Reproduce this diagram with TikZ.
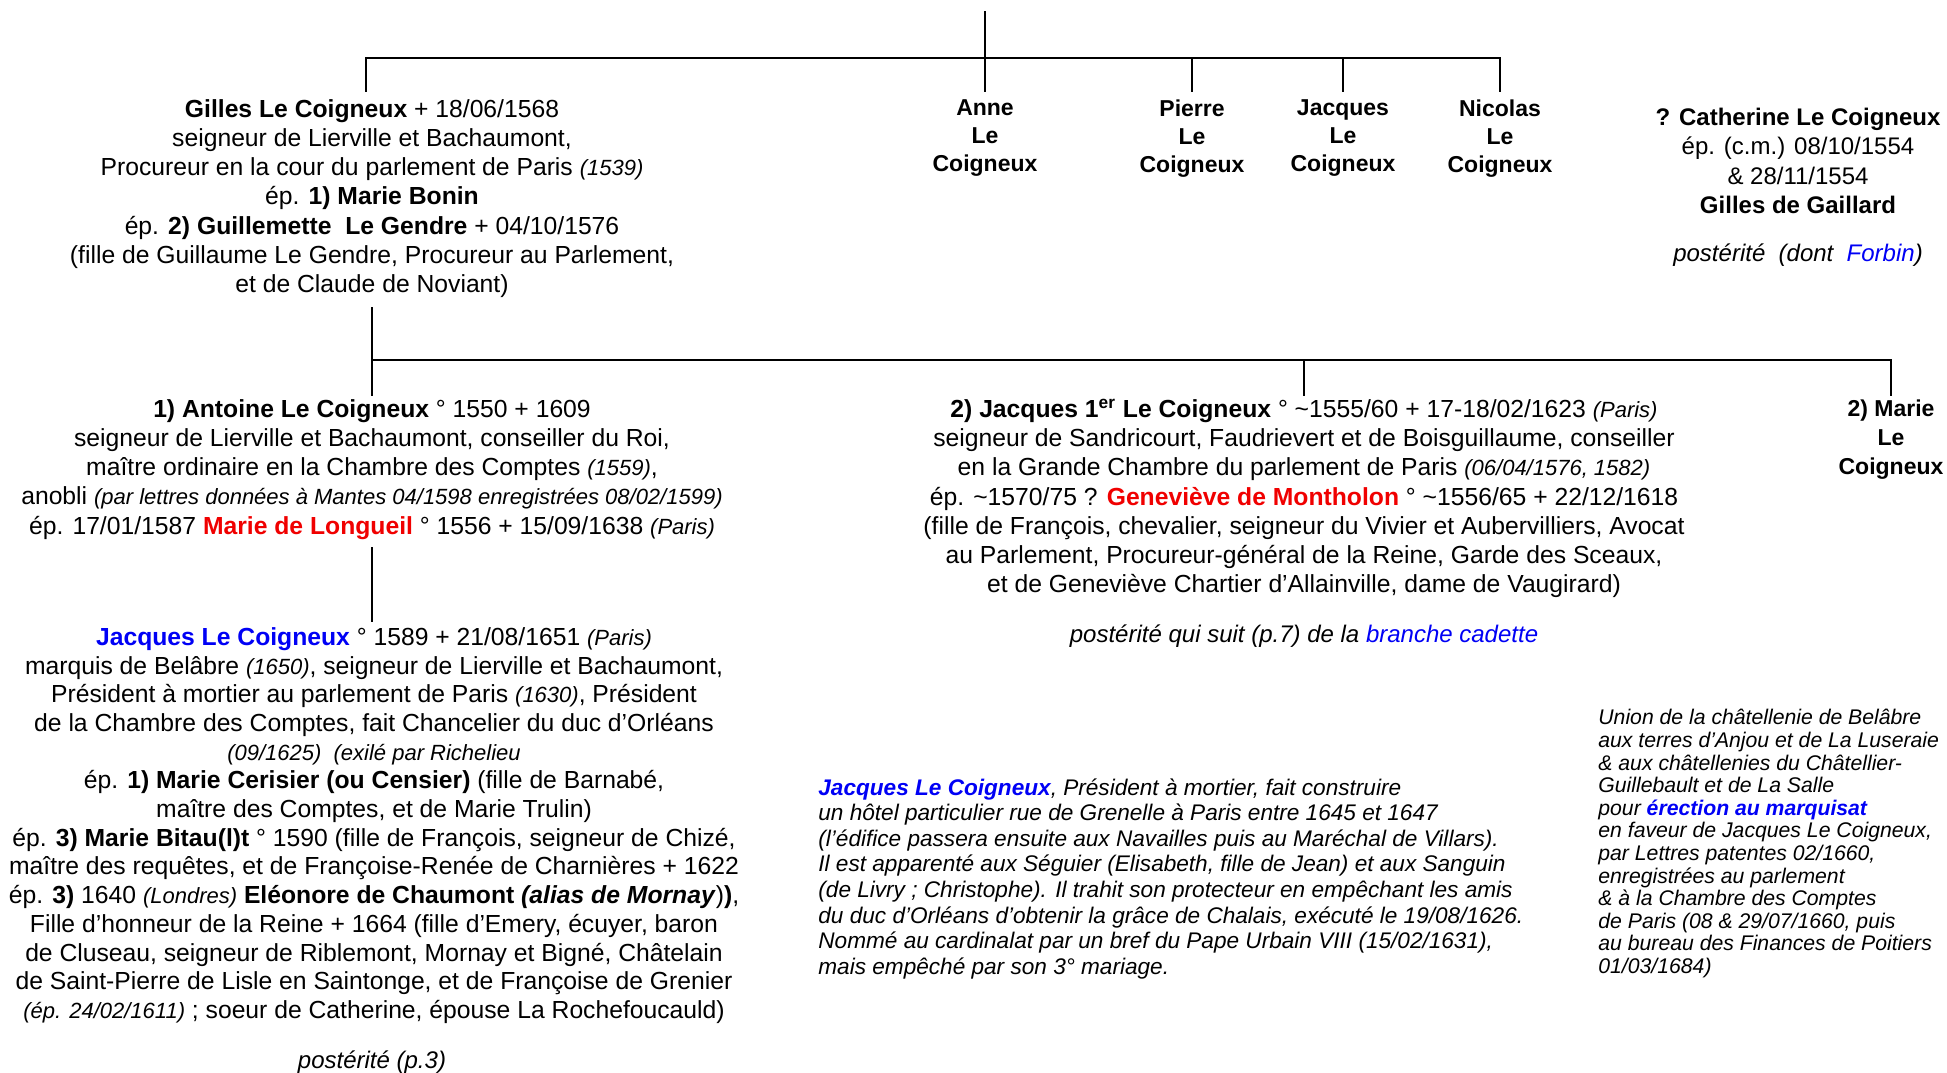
\documentclass[tikz,border=0pt]{standalone}
\usepackage{fontspec}
\setmainfont{Liberation Sans}
\usepackage{xcolor}
\definecolor{lienbleu}{RGB}{0,0,245}
\definecolor{nomrouge}{RGB}{240,0,0}
\newcommand\petit[1]{{\fontsize{11}{14.6}\selectfont\itshape #1}}
\newcommand\bleu[1]{\textcolor{lienbleu}{#1}}
\newcommand\rouge[1]{\textcolor{nomrouge}{\textbf{#1}}}
\setlength\lineskiplimit{-20pt}

\begin{document}
\begin{tikzpicture}[x=0.5pt,y=-0.5pt,
  lien/.style={line width=1.2pt,line cap=rect},
  fiche/.style={align=center,inner sep=0pt,anchor=north,font=\fontsize{12.35}{14.6}\selectfont},
  frere/.style={fiche,font=\fontsize{11.5}{14}\selectfont\bfseries},
  note/.style={align=left,inner sep=0pt,anchor=north west}]
\useasboundingbox (0,0) rectangle (1947,1072);

% Gilles et ses freres
\node[fiche] (gilles) at (372,99) {\textbf{Gilles Le Coigneux} + 18/06/1568\\
  seigneur de Lierville et Bachaumont,\\
  Procureur en la cour du parlement de Paris \petit{(1539)}\\
  ép. \textbf{1) Marie Bonin}\\
  ép. \textbf{2) Guillemette\ \ Le Gendre} + 04/10/1576\\
  (fille de Guillaume Le Gendre, Procureur au Parlement,\\
  et de Claude de Noviant)};
\foreach \x/\n/\p in {985/anne/Anne,1192/pierre/Pierre,1343/jacques/Jacques,1500/nicolas/Nicolas}
  \node[frere] (\n) at (\x,99) {\p\\Le\\Coigneux};
\node[fiche,font=\fontsize{12}{14.6}\selectfont] (catherine) at (1798,108) {\textbf{? Catherine Le Coigneux}\\
  ép. (c.m.) 08/10/1554\\
  \& 28/11/1554\\
  \textbf{Gilles de Gaillard}};
\node[fiche,font=\fontsize{12}{14.6}\selectfont\itshape] (catpost) at (1798,243)
  {postérité\ \ (dont\ \ \bleu{Forbin})};

\coordinate (haut) at (985,12);
\coordinate (barre) at (985,58);
\draw[lien] (haut) -- (barre);
\draw[lien] ([xshift=-3pt]barre -| gilles.north) -- (barre -| nicolas.north);
\draw[lien,shorten >=4pt] ([xshift=-3pt]barre -| gilles.north) -- ([xshift=-3pt]gilles.north);
\foreach \n in {anne,pierre,jacques,nicolas}
  \draw[lien,shorten >=4pt] (barre -| \n.north) -- (\n.north);

% enfants de Gilles
\node[fiche] (antoine) at (372,399) {\textbf{1) Antoine Le Coigneux} ° 1550 + 1609\\
  seigneur de Lierville et Bachaumont, conseiller du Roi,\\
  maître ordinaire en la Chambre des Comptes \petit{(1559)},\\
  anobli \petit{(par lettres données à Mantes 04/1598 enregistrées 08/02/1599)}\\
  ép. 17/01/1587 \rouge{Marie de Longueil} ° 1556 + 15/09/1638 \petit{(Paris)}};
\node[fiche] (jacquespremier) at (1304,399) {\textbf{2) Jacques 1\textsuperscript{er} Le Coigneux} ° \textasciitilde1555/60 + 17-18/02/1623 \petit{(Paris)}\\
  seigneur de Sandricourt, Faudrievert et de Boisguillaume, conseiller\\
  en la Grande Chambre du parlement de Paris \petit{(06/04/1576, 1582)}\\
  ép. \textasciitilde1570/75 ? \rouge{Geneviève de Montholon} ° \textasciitilde1556/65 + 22/12/1618\\
  (fille de François, chevalier, seigneur du Vivier et Aubervilliers, Avocat\\
  au Parlement, Procureur-général de la Reine, Garde des Sceaux,\\
  et de Geneviève Chartier d’Allainville, dame de Vaugirard)};
\node[fiche,font=\fontsize{12}{14.6}\selectfont\itshape] (jppost) at (1304,624)
  {postérité qui suit (p.7) de la \bleu{branche cadette}};
\node[frere,font=\fontsize{11.5}{14.5}\selectfont\bfseries] (marie) at (1891,399) {2) Marie\\Le\\Coigneux};

\coordinate (barre2) at (372,360);
\draw[lien,shorten <=5pt,shorten >=2pt] (gilles.south) -- (gilles.south |- antoine.north);
\draw[lien] (barre2) -- (barre2 -| marie.north);
\foreach \n in {jacquespremier,marie}
  \draw[lien,shorten >=2pt] (barre2 -| \n.north) -- (\n.north);

% fils d'Antoine
\node[fiche,font=\fontsize{12.35}{14.35}\selectfont] (jacquesfils) at (374,627) {\bleu{\textbf{Jacques Le Coigneux}} ° 1589 + 21/08/1651 \petit{(Paris)}\\
  marquis de Belâbre \petit{(1650)}, seigneur de Lierville et Bachaumont,\\
  Président à mortier au parlement de Paris \petit{(1630)}, Président\\
  de la Chambre des Comptes, fait Chancelier du duc d’Orléans\\
  \petit{(09/1625)\ \ (exilé par Richelieu}\\
  ép. \textbf{1) Marie Cerisier (ou Censier)} (fille de Barnabé,\\
  maître des Comptes, et de Marie Trulin)\\
  ép. \textbf{3) Marie Bitau(l)t} ° 1590 (fille de François, seigneur de Chizé,\\
  maître des requêtes, et de Françoise-Renée de Charnières + 1622\\
  ép. \textbf{3)} 1640 \petit{(Londres)} \textbf{Eléonore de Chaumont \textit{(alias de Mornay}})\textbf{)},\\
  Fille d’honneur de la Reine + 1664 (fille d’Emery, écuyer, baron\\
  de Cluseau, seigneur de Riblemont, Mornay et Bigné, Châtelain\\
  de Saint-Pierre de Lisle en Saintonge, et de Françoise de Grenier\\
  \petit{(ép. 24/02/1611)} ; soeur de Catherine, épouse La Rochefoucauld)};
\node[fiche,font=\fontsize{12}{14.6}\selectfont\itshape] (jfpost) at (372,1050) {postérité (p.3)};
\draw[lien,shorten <=4pt,shorten >=3pt] (antoine.south) -- (antoine.south |- jacquesfils.north);

% notes
\node[note,font=\fontsize{11.3}{12.8}\selectfont\itshape] (hotel) at (818,778)
  {\bleu{\textbf{Jacques Le Coigneux}}, Président à mortier, fait construire\\
  un hôtel particulier rue de Grenelle à Paris entre 1645 et 1647\\
  (l’édifice passera ensuite aux Navailles puis au Maréchal de Villars).\\
  Il est apparenté aux Séguier (Elisabeth, fille de Jean) et aux Sanguin\\
  (de Livry ; Christophe). Il trahit son protecteur en empêchant les amis\\
  du duc d’Orléans d’obtenir la grâce de Chalais, exécuté le 19/08/1626.\\
  Nommé au cardinalat par un bref du Pape Urbain VIII (15/02/1631),\\
  mais empêché par son 3° mariage.};
\node[note,font=\fontsize{10.6}{11.3}\selectfont\itshape] (marquisat) at (1598,709)
  {Union de la châtellenie de Belâbre\\
  aux terres d’Anjou et de La Luseraie\\
  \& aux châtellenies du Châtellier-\\
  Guillebault et de La Salle\\
  pour \bleu{\textbf{érection au marquisat}}\\
  en faveur de Jacques Le Coigneux,\\
  par Lettres patentes 02/1660,\\
  enregistrées au parlement\\
  \& à la Chambre des Comptes\\
  de Paris (08 \& 29/07/1660, puis\\
  au bureau des Finances de Poitiers\\
  01/03/1684)};
\end{tikzpicture}
\end{document}
